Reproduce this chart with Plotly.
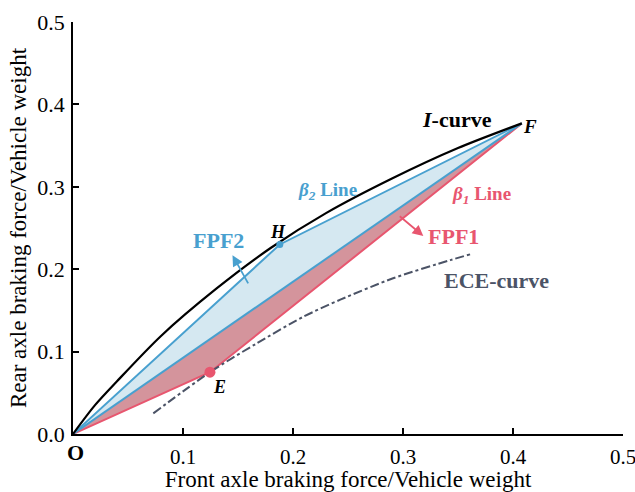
import plotly.graph_objects as go

# ---- data ----
icurve_x = [0, 0.02, 0.04, 0.08, 0.13, 0.18, 0.23, 0.29, 0.35, 0.408]
icurve_y = [0, 0.035, 0.064, 0.119, 0.176, 0.226, 0.268, 0.310, 0.347, 0.377]

beta2_x = [0, 0.188, 0.408]          # O -> H -> F
beta2_y = [0, 0.230, 0.377]
beta_of_x = [0, 0.408]               # O -> F straight
beta_of_y = [0, 0.377]
beta1_x = [0, 0.1245, 0.408]         # O -> E -> F
beta1_y = [0, 0.075, 0.377]

ece_x = [0.073, 0.1245, 0.167, 0.209, 0.243, 0.291, 0.343, 0.361]
ece_y = [0.025, 0.075, 0.110, 0.142, 0.163, 0.189, 0.211, 0.218]

H_pt = (0.188, 0.230)
E_pt = (0.1245, 0.075)

x_ticks = [0.1, 0.2, 0.3, 0.4, 0.5]
y_ticks = [0.0, 0.1, 0.2, 0.3, 0.4, 0.5]

BLUE = "#48A0CF"
BLUE_FILL = "#D5E8F1"
RED = "#E8566F"
RED_FILL = "#D4949C"
ECE = "#4B5366"
FONT = "Liberation Serif"

fig = go.Figure()

# fills
fig.add_trace(go.Scatter(x=beta2_x + beta_of_x[::-1], y=beta2_y + beta_of_y[::-1],
                         fill="toself", fillcolor=BLUE_FILL, line=dict(width=0),
                         mode="lines", hoverinfo="skip", showlegend=False))
fig.add_trace(go.Scatter(x=beta_of_x + beta1_x[::-1], y=beta_of_y + beta1_y[::-1],
                         fill="toself", fillcolor=RED_FILL, line=dict(width=0),
                         mode="lines", hoverinfo="skip", showlegend=False))
# lines
fig.add_trace(go.Scatter(x=beta1_x, y=beta1_y, mode="lines",
                         line=dict(color=RED, width=2), showlegend=False))
fig.add_trace(go.Scatter(x=beta_of_x, y=beta_of_y, mode="lines",
                         line=dict(color=BLUE, width=2), showlegend=False))
fig.add_trace(go.Scatter(x=beta2_x, y=beta2_y, mode="lines",
                         line=dict(color=BLUE, width=2), showlegend=False))
fig.add_trace(go.Scatter(x=icurve_x, y=icurve_y, mode="lines",
                         line=dict(color="black", width=2.2, shape="spline", smoothing=0.8),
                         showlegend=False))
fig.add_trace(go.Scatter(x=ece_x, y=ece_y, mode="lines",
                         line=dict(color=ECE, width=2, dash="dashdot", shape="spline", smoothing=0.8),
                         showlegend=False))
# markers
fig.add_trace(go.Scatter(x=[H_pt[0]], y=[H_pt[1]], mode="markers",
                         marker=dict(color=BLUE, size=7), showlegend=False))
fig.add_trace(go.Scatter(x=[E_pt[0]], y=[E_pt[1]], mode="markers",
                         marker=dict(color=RED, size=11), showlegend=False))

def txt(x, y, text, color, size):
    fig.add_annotation(x=x, y=y, xref="x", yref="y", text=text, showarrow=False,
                       font=dict(family=FONT, size=size, color=color),
                       xanchor="center", yanchor="middle")

txt(0.349, 0.382, "<b><i>I</i>-curve</b>", "black", 22)
txt(0.4155, 0.373, "<b><i>F</i></b>", "black", 19)
txt(0.231, 0.295, "<b><i>β<sub>2</sub></i> Line</b>", BLUE, 19)
txt(0.371, 0.290, "<b><i>β<sub>1</sub></i> Line</b>", RED, 19)
txt(0.346, 0.240, "<b>FPF1</b>", RED, 22)
txt(0.132, 0.235, "<b>FPF2</b>", BLUE, 22)
txt(0.186, 0.245, "<b><i>H</i></b>", "black", 18)
txt(0.1336, 0.057, "<b><i>E</i></b>", "black", 18)
txt(0.385, 0.186, "<b>ECE-curve</b>", ECE, 22)

# origin label (below the axis, so referenced to paper)
fig.add_annotation(x=0.004, y=-0.046, xref="paper", yref="paper", text="<b>O</b>",
                   showarrow=False, font=dict(family=FONT, size=22, color="black"),
                   xanchor="center", yanchor="middle")

# arrows
fig.add_annotation(x=0.3185, y=0.2403, ax=0.2957, ay=0.2658, xref="x", yref="y",
                   axref="x", ayref="y", showarrow=True, arrowhead=2, arrowsize=1.2,
                   arrowwidth=1.8, arrowcolor=RED, text="")
fig.add_annotation(x=0.145, y=0.217, ax=0.160, ay=0.181, xref="x", yref="y",
                   axref="x", ayref="y", showarrow=True, arrowhead=2, arrowsize=1.2,
                   arrowwidth=1.8, arrowcolor=BLUE, text="")

axis_common = dict(showgrid=False, zeroline=False, showline=True, linecolor="black",
                   linewidth=1.8, ticks="inside", ticklen=6, tickwidth=1.5,
                   tickcolor="black", ticklabeloverflow="allow", automargin=False)

fig.update_layout(
    width=635, height=492,
    margin=dict(l=73, r=12, t=22, b=58),
    paper_bgcolor="white", plot_bgcolor="white",
    xaxis=dict(range=[0, 0.5], tickvals=x_ticks, ticktext=[f"{v:.1f}" for v in x_ticks],
               ticklabelstandoff=3,
               tickfont=dict(family=FONT, size=21, color="black"),
               title=dict(text="Front axle braking force/Vehicle weight",
                          font=dict(family=FONT, size=23, color="black"), standoff=6),
               **axis_common),
    yaxis=dict(range=[0, 0.5], tickvals=y_ticks, ticktext=[f"{v:.1f}" for v in y_ticks],
               ticklabelstandoff=2,
               tickfont=dict(family=FONT, size=22, color="black"),
               title=dict(text="Rear axle braking force/Vehicle weight",
                          font=dict(family=FONT, size=23, color="black"), standoff=4),
               **axis_common),
)

fig.write_html("out.html")
